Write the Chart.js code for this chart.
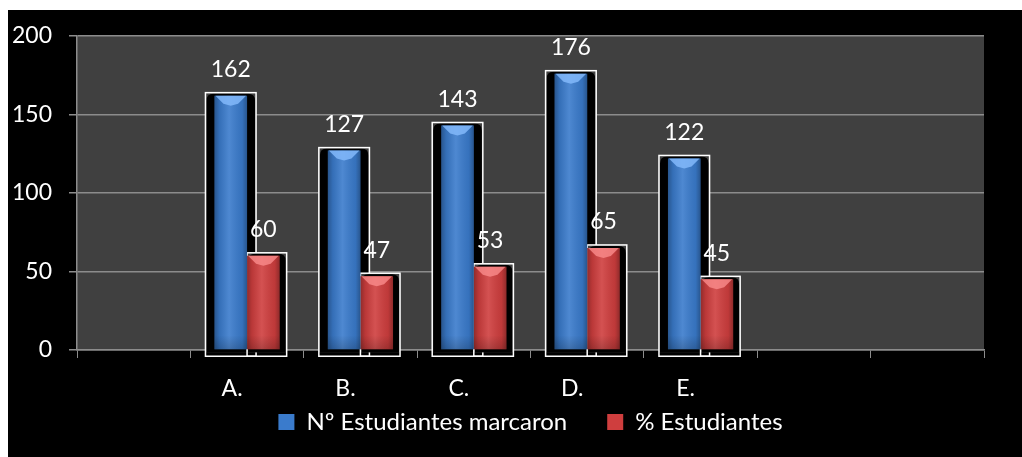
<!DOCTYPE html>
<html>
<head>
<meta charset="utf-8">
<script src="https://cdn.jsdelivr.net/npm/chart.js@4.4.0/dist/chart.umd.min.js"></script>
<style>
html,body{margin:0;padding:0;background:#ffffff;}
#wrap{position:absolute;left:8px;top:10px;width:1014px;height:447px;background:#000000;}
canvas{display:block;}
</style>
</head>
<body>
<div id="wrap"><canvas id="c" width="1014" height="447"></canvas></div>
<script>
// ---- data ----
const categories = ['', 'A.', 'B.', 'C.', 'D.', 'E.', '', ''];
const seriesNames = ['Nº Estudiantes marcaron', '% Estudiantes'];
const estudiantesMarcaron = [null, 162, 127, 143, 176, 122, null, null];
const porcentajeEstudiantes = [null, 60, 47, 53, 65, 45, null, null];
const yTicks = [0, 50, 100, 150, 200];

const FAMILY = 'Lato, "Noto Sans", sans-serif';
const NUM_SIZE = 23;
const BLUE = '#3a7bcc';
const RED = '#cf3e3e';

function roundTop(ctx, l, t, r, b, rad) {
  ctx.beginPath();
  ctx.moveTo(l, b);
  ctx.lineTo(l, t + rad);
  ctx.quadraticCurveTo(l, t, l + rad, t);
  ctx.lineTo(r - rad, t);
  ctx.quadraticCurveTo(r, t, r, t + rad);
  ctx.lineTo(r, b);
  ctx.closePath();
}

const decor = {
  id: 'decor',
  beforeDraw(chart) {
    const {ctx, chartArea: a} = chart;
    ctx.save();
    ctx.fillStyle = '#404040';
    ctx.fillRect(a.left, a.top, a.right - a.left, a.bottom - a.top);
    ctx.restore();
  },
  beforeDatasetsDraw(chart) {
    const ctx = chart.ctx;
    ctx.save();
    [0, 1].forEach(di => {
      const meta = chart.getDatasetMeta(di);
      const data = chart.data.datasets[di].data;
      meta.data.forEach((bar, i) => {
        if (data[i] == null) return;
        const p = bar.getProps(['x', 'y', 'base', 'width'], true);
        const l = p.x - p.width / 2, r = p.x + p.width / 2;
        const bl = di === 0 ? l - 9 : l;
        const br = di === 0 ? r + 9 : r + 7;
        const bt = p.y - 3, bb = p.base + 3;
        ctx.fillStyle = '#404040';
        ctx.fillRect(bl, bt, br - bl, bb - bt);
        ctx.fillStyle = '#000000';
        roundTop(ctx, bl + 1, bt + 1, br - 1, bb, 7);
        ctx.fill();
        ctx.strokeStyle = '#ffffff';
        ctx.lineWidth = 1.5;
        ctx.strokeRect(bl, bt, br - bl, bb - bt + 4);
      });
    });
    ctx.restore();
  },
  afterDatasetsDraw(chart) {
    const ctx = chart.ctx;
    ctx.save();
    [0, 1].forEach(di => {
      const meta = chart.getDatasetMeta(di);
      const data = chart.data.datasets[di].data;
      const light = di === 0 ? 'rgba(130,185,250,0.85)' : 'rgba(250,140,140,0.8)';
      meta.data.forEach((bar, i) => {
        if (data[i] == null) return;
        const p = bar.getProps(['x', 'y', 'base', 'width'], true);
        const l = p.x - p.width / 2, r = p.x + p.width / 2;
        const g = ctx.createLinearGradient(l, 0, r, 0);
        g.addColorStop(0, 'rgba(0,0,0,0.30)');
        g.addColorStop(0.15, 'rgba(0,0,0,0.10)');
        g.addColorStop(0.45, 'rgba(255,255,255,0.10)');
        g.addColorStop(0.85, 'rgba(0,0,0,0.08)');
        g.addColorStop(1, 'rgba(0,0,0,0.30)');
        ctx.fillStyle = g;
        ctx.fillRect(l, p.y, r - l, p.base - p.y);
        const gv = ctx.createLinearGradient(0, p.base - 14, 0, p.base);
        gv.addColorStop(0, 'rgba(0,0,0,0)');
        gv.addColorStop(1, 'rgba(0,0,0,0.18)');
        ctx.fillStyle = gv;
        ctx.fillRect(l, p.base - 14, r - l, 14);
        ctx.fillStyle = light;
        ctx.beginPath();
        ctx.moveTo(l + 1, p.y);
        ctx.lineTo(r - 1, p.y);
        ctx.lineTo(r - 9, p.y + 8);
        ctx.lineTo(p.x, p.y + 10);
        ctx.lineTo(l + 9, p.y + 8);
        ctx.closePath();
        ctx.fill();
        ctx.fillStyle = '#ffffff';
        ctx.font = NUM_SIZE + 'px ' + FAMILY;
        ctx.textAlign = 'center';
        ctx.textBaseline = 'middle';
        ctx.fillText(String(data[i]), p.x, p.y - 26);
      });
    });
    ctx.restore();
  }
};

new Chart(document.getElementById('c'), {
  type: 'bar',
  data: {
    labels: categories,
    datasets: [
      {label: seriesNames[0], data: estudiantesMarcaron, backgroundColor: BLUE, borderWidth: 0,
       categoryPercentage: 0.575, barPercentage: 1.0},
      {label: seriesNames[1], data: porcentajeEstudiantes, backgroundColor: RED, borderWidth: 0,
       categoryPercentage: 0.575, barPercentage: 1.0}
    ]
  },
  options: {
    responsive: false,
    animation: false,
    devicePixelRatio: 1,
    layout: {padding: {left: 0, right: 38, top: 26, bottom: 13}},
    plugins: {
      legend: {
        position: 'bottom',
        fullSize: false,
        labels: {color: '#ffffff', font: {family: FAMILY, size: 24}, boxWidth: 16, boxHeight: 16, padding: 40}
      },
      tooltip: {enabled: false}
    },
    scales: {
      x: {
        offset: true,
        grid: {display: true, drawOnChartArea: false, offset: true, tickLength: 8, color: '#8c8c8c', lineWidth: 1},
        border: {color: '#8c8c8c', width: 1.5},
        ticks: {color: '#ffffff', font: {family: FAMILY, size: NUM_SIZE}, mirror: true, padding: -52,
                labelOffset: -15, maxRotation: 0, autoSkip: false},
        afterFit(s) { s.height = 20; s.paddingLeft = 0; s.paddingRight = 0; }
      },
      y: {
        min: yTicks[0],
        max: yTicks[yTicks.length - 1],
        afterBuildTicks(s) { s.ticks = yTicks.map(v => ({value: v})); },
        grid: {color: '#8c8c8c', lineWidth: 1.5, tickLength: 8},
        border: {color: '#8c8c8c', width: 1.5},
        ticks: {color: '#ffffff', font: {family: FAMILY, size: NUM_SIZE}, padding: 17},
        afterFit(s) { s.width = 69; s.paddingTop = 14; s.paddingBottom = 0; }
      }
    }
  },
  plugins: [decor]
});
</script>
</body>
</html>
